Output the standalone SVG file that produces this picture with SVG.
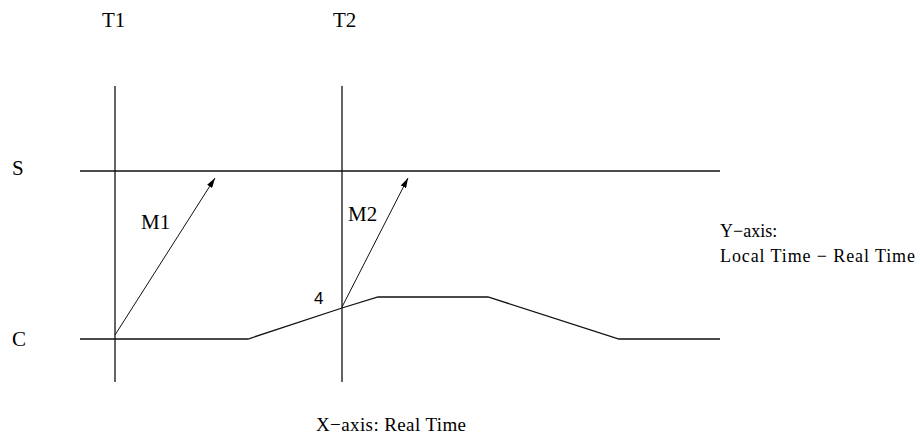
<svg xmlns="http://www.w3.org/2000/svg" width="920" height="438" viewBox="0 0 920 438">
<style>
.ln{stroke:#111;stroke-width:1.3;fill:none}
.msg{stroke:#111;stroke-width:1;fill:none}
.lbl{font-family:"Liberation Serif","Times New Roman",serif;fill:#000}
.num{font-family:"Liberation Sans",Arial,sans-serif;fill:#000}
</style>
<defs>
<marker id="ah" viewBox="0 0 10 6" refX="10" refY="3" markerWidth="10" markerHeight="6" markerUnits="userSpaceOnUse" orient="auto">
<path d="M0,0 L10,3 L0,6 Z" fill="#000"/>
</marker>
</defs>
<rect width="920" height="438" fill="#fff"/>
<g id="axes">
<line class="ln" x1="115" y1="86" x2="115" y2="382"/>
<line class="ln" x1="342" y1="86" x2="342" y2="382"/>
<line class="ln" x1="80" y1="171" x2="720" y2="171"/>
</g>
<g id="clock">
<polyline class="ln" points="80,339 248,339 342,308 378,297 488,297 619,339 720,339"/>
</g>
<g id="connectors">
<line class="msg" x1="115" y1="335" x2="215" y2="178" marker-end="url(#ah)"/>
<line class="msg" x1="342" y1="307" x2="408" y2="178" marker-end="url(#ah)"/>
</g>
<g id="labels">
<text class="lbl" x="102" y="27" font-size="21">T1</text>
<text class="lbl" x="333" y="27" font-size="21">T2</text>
<text class="lbl" x="12" y="175" font-size="21">S</text>
<text class="lbl" x="12" y="346" font-size="21">C</text>
<text class="lbl" x="141" y="229" font-size="21">M1</text>
<text class="lbl" x="348" y="221" font-size="21">M2</text>
<text class="num" x="314" y="304" font-size="17">4</text>
<text class="lbl" x="720" y="237" font-size="18">Y−axis:</text>
<text class="lbl" x="720" y="262" font-size="18" textLength="195" lengthAdjust="spacing">Local Time − Real Time</text>
<text class="lbl" x="316" y="431" font-size="19" textLength="150" lengthAdjust="spacing">X−axis: Real Time</text>
</g>
</svg>
